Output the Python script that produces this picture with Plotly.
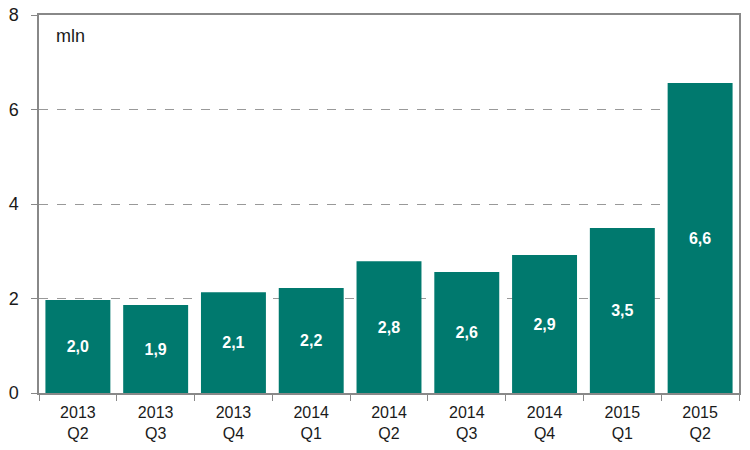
import plotly.graph_objects as go

categories = ["2013<br>Q2", "2013<br>Q3", "2013<br>Q4", "2014<br>Q1", "2014<br>Q2",
              "2014<br>Q3", "2014<br>Q4", "2015<br>Q1", "2015<br>Q2"]
values = [1.97, 1.86, 2.13, 2.22, 2.79, 2.56, 2.92, 3.49, 6.56]
labels = ["2,0", "1,9", "2,1", "2,2", "2,8", "2,6", "2,9", "3,5", "6,6"]
y_ticks = [0, 2, 4, 6, 8]

fig = go.Figure(go.Bar(
    x=categories, y=values, text=labels, texttemplate="<b>%{text}</b>",
    textposition="inside", insidetextanchor="middle", constraintext="none",
    textfont=dict(family="Arial, Liberation Sans", size=16, color="white"),
    marker=dict(color="#00796E", line=dict(width=0)),
    hoverinfo="skip",
))

fig.update_layout(
    width=750, height=450,
    margin=dict(l=39, r=11, t=15, b=57),
    plot_bgcolor="white", paper_bgcolor="white",
    bargap=0.165, showlegend=False,
    font=dict(family="Arial, Liberation Sans", color="#1a1a1a"),
    annotations=[dict(text="mln", xref="paper", yref="paper", x=0.022, y=0.975,
                      xanchor="left", yanchor="top", showarrow=False,
                      font=dict(size=18, color="#1a1a1a"))],
)
fig.update_xaxes(
    automargin=False, ticklabelstandoff=4,
    showline=True, linecolor="#888888", linewidth=1.5, mirror=True,
    ticks="outside", tickson="boundaries", ticklen=6, tickcolor="#888888",
    tickfont=dict(size=16), showgrid=False,
)
fig.update_yaxes(
    automargin=False, ticklabeloverflow="allow",
    range=[0, 8], tickvals=y_ticks, showline=True, linecolor="#888888", linewidth=1.5,
    mirror=True, ticks="outside", ticklen=6, tickcolor="#888888",
    tickfont=dict(size=18), ticklabelstandoff=9,
    showgrid=True, gridcolor="#999999", griddash="dash", gridwidth=1, zeroline=False,
)

# remove the default 8px page margin so the 750x450 figure fills the window exactly
fig.write_html("out.html", config={"displayModeBar": False},
               post_script="document.body.style.margin='0';")
